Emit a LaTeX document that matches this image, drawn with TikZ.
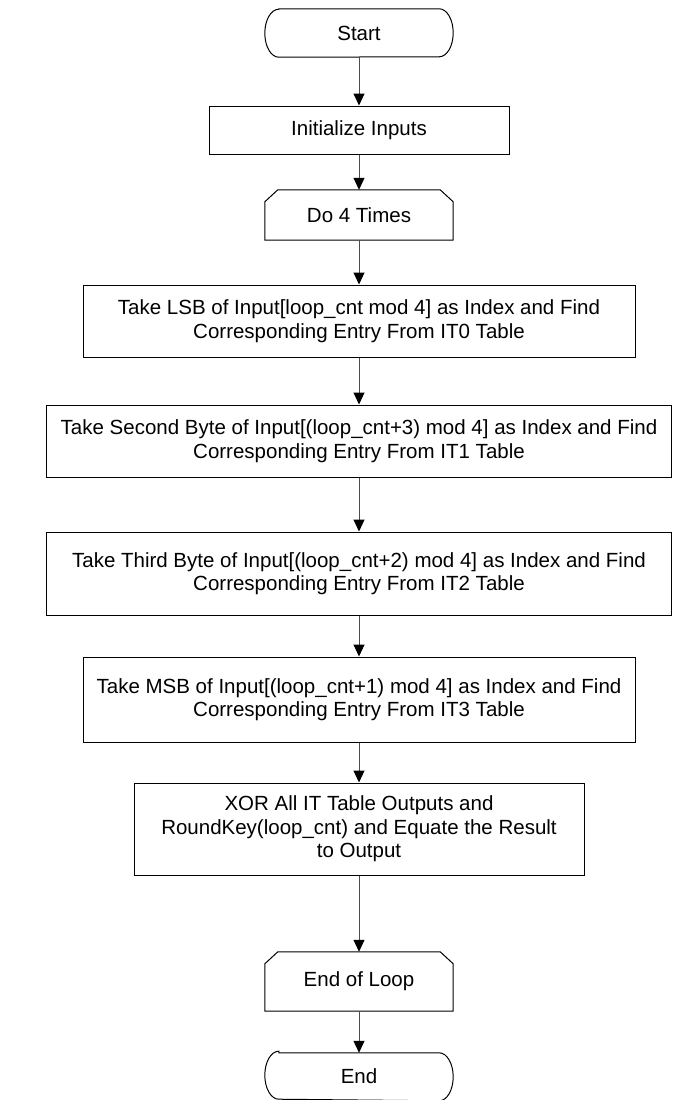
\documentclass[tikz,border=0pt]{standalone}
\usepackage{fontspec}
\setmainfont{Liberation Sans}
\usetikzlibrary{arrows.meta}

\tikzset{
  figtext/.style={font=\fontsize{20.5}{23.5}\selectfont, align=center, inner sep=0pt},
  procbox/.style={figtext, draw=black, line width=1pt, fill=white},
  plainbox/.style={figtext},
  outline/.style={draw=black, line width=1pt},
  flowarrow/.style={draw=black!70, line width=1pt,
    -{Triangle[length=12pt,width=11pt,black]}},
}

% terminator outline around a node: flat top and bottom, elliptic ends
\newcommand{\termshape}[1]{%
  \draw[outline] ([xshift=14pt]#1.north west) -- ([xshift=-14pt]#1.north east)
    arc[start angle=90, end angle=-90, x radius=14pt, y radius=24pt]
    -- ([xshift=14pt]#1.south west)
    arc[start angle=270, end angle=90, x radius=14pt, y radius=24pt] -- cycle;}

% loop limit outline: both upper corners cut off
\newcommand{\loopshape}[1]{%
  \draw[outline] (#1.south west) -- ([yshift=-12pt]#1.north west)
    -- ([xshift=13pt]#1.north west) -- ([xshift=-13pt]#1.north east)
    -- ([yshift=-12pt]#1.north east) -- (#1.south east) -- cycle;}

\begin{document}
\begin{tikzpicture}[x=1pt, y=-1pt]
  \useasboundingbox (0,0) rectangle (698,1100);

  \node[plainbox, minimum width=188pt, minimum height=48pt] (start) at (359,33) {Start};
  \termshape{start}

  \node[procbox, minimum width=300pt, minimum height=48pt] (init) at (359,130) {Initialize Inputs};

  \node[plainbox, minimum width=188pt, minimum height=50pt] (do4) at (359,215) {Do 4 Times};
  \loopshape{do4}

  \node[procbox, minimum width=552pt, minimum height=72pt] (b1) at (359,321)
    {Take LSB of Input[loop\_cnt mod 4] as Index and Find\\Corresponding Entry From IT0 Table};

  \node[procbox, minimum width=625pt, minimum height=72pt] (b2) at (359,441)
    {Take Second Byte of Input[(loop\_cnt+3) mod 4] as Index and Find\\Corresponding Entry From IT1 Table};

  \node[procbox, minimum width=625pt, minimum height=83pt] (b3) at (359,573.5)
    {Take Third Byte of Input[(loop\_cnt+2) mod 4] as Index and Find\\Corresponding Entry From IT2 Table};

  \node[procbox, minimum width=552pt, minimum height=85pt] (b4) at (359,699.5)
    {Take MSB of Input[(loop\_cnt+1) mod 4] as Index and Find\\Corresponding Entry From IT3 Table};

  \node[procbox, minimum width=450pt, minimum height=92pt] (b5) at (359,829)
    {XOR All IT Table Outputs and\\RoundKey(loop\_cnt) and Equate the Result\\to Output};

  \node[plainbox, minimum width=188pt, minimum height=59pt] (eloop) at (359,981.5) {End of Loop};
  \loopshape{eloop}

  \node[plainbox, minimum width=188pt, minimum height=46pt] (end) at (359,1076) {End};
  \termshape{end}

  \draw[flowarrow] (start) -- (init);
  \draw[flowarrow] (init) -- (do4);
  \draw[flowarrow] (do4) -- (b1);
  \draw[flowarrow] (b1) -- (b2);
  \draw[flowarrow] (b2) -- (b3);
  \draw[flowarrow] (b3) -- (b4);
  \draw[flowarrow] (b4) -- (b5);
  \draw[flowarrow] (b5) -- (eloop);
  \draw[flowarrow] (eloop) -- (end);
\end{tikzpicture}
\end{document}
